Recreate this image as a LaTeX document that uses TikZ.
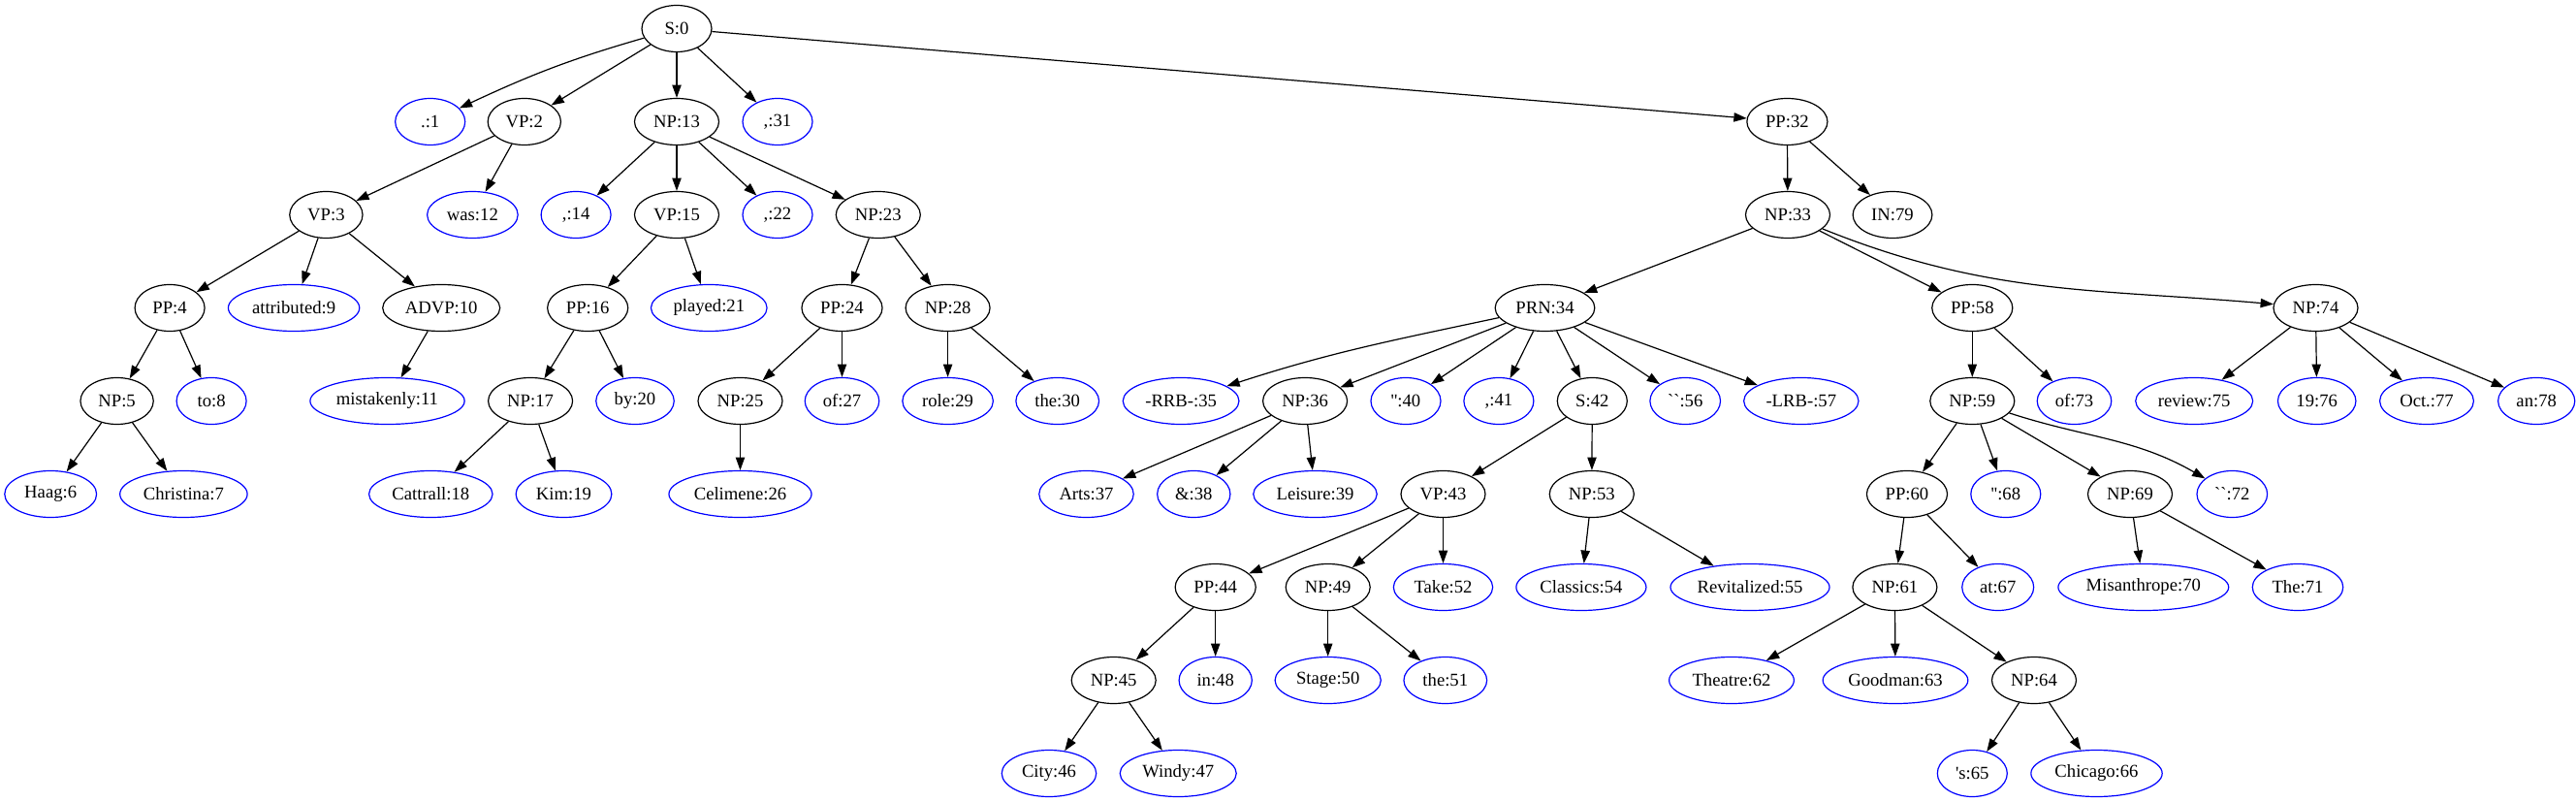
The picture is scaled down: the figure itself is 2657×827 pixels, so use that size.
\documentclass[tikz,border=0pt]{standalone}
\usepackage{fontspec}
\newfontfamily\tf{Liberation Serif}
\usetikzlibrary{shapes.geometric,arrows.meta}
\definecolor{gvblue}{RGB}{0,0,255}
\newlength\lblw
\newcommand\lbl[1]{\setbox0=\hbox{#1}\lblw=0.891\wd0 \advance\lblw by 14.26pt\makebox[\lblw]{#1}}
\tikzset{
  gvnode/.style={ellipse, draw, line width=0.9pt, inner xsep=0pt, inner ysep=0pt,
    minimum width=54pt, minimum height=36pt, font=\tf\fontsize{14}{16}\selectfont},
  nt/.style={gvnode, draw=black},
  wd/.style={gvnode, draw=gvblue},
  edge/.style={draw, line width=0.9pt, -{Triangle[length=10pt,width=7pt]}}
}
\begin{document}
\begin{tikzpicture}[x=0.75pt,y=0.75pt]
\useasboundingbox (0,0) rectangle (2657,-827);
% level 0
\node[nt] (S0) at (698,-29.5) {\lbl{S:0}};
% level 1
\node[wd] (dot1) at (443.7,-125.5) {\lbl{.:1}};
\node[nt] (VP2) at (540.8,-125.5) {\lbl{VP:2}};
\node[nt] (NP13) at (698,-125.5) {\lbl{NP:13}};
\node[wd] (c31) at (802,-125.5) {\lbl{,:31}};
\node[nt] (PP32) at (1843.4,-125.5) {\lbl{PP:32}};
% level 2
\node[nt] (VP3) at (336.4,-221.5) {\lbl{VP:3}};
\node[wd] (was12) at (487.4,-221.5) {\lbl{was:12}};
\node[wd] (c14) at (594.1,-221.5) {\lbl{,:14}};
\node[nt] (VP15) at (698,-221.5) {\lbl{VP:15}};
\node[wd] (c22) at (802,-221.5) {\lbl{,:22}};
\node[nt] (NP23) at (905.8,-221.5) {\lbl{NP:23}};
\node[nt] (NP33) at (1844,-221.5) {\lbl{NP:33}};
\node[nt] (IN79) at (1952,-221.5) {\lbl{IN:79}};
% level 3
\node[nt] (PP4) at (175.1,-317.5) {\lbl{PP:4}};
\node[wd] (attributed9) at (303.1,-317.5) {\lbl{attributed:9}};
\node[nt] (ADVP10) at (455.2,-317.5) {\lbl{ADVP:10}};
\node[nt] (PP16) at (606.2,-317.5) {\lbl{PP:16}};
\node[wd] (played21) at (731.3,-317.5) {\lbl{played:21}};
\node[nt] (PP24) at (868.5,-317.5) {\lbl{PP:24}};
\node[nt] (NP28) at (977.6,-317.5) {\lbl{NP:28}};
\node[nt] (PRN34) at (1593.5,-317.5) {\lbl{PRN:34}};
\node[nt] (PP58) at (2034.3,-317.5) {\lbl{PP:58}};
\node[nt] (NP74) at (2388.5,-317.5) {\lbl{NP:74}};
% level 4
\node[nt] (NP5) at (120.6,-413.5) {\lbl{NP:5}};
\node[wd] (to8) at (218.1,-413.5) {\lbl{to:8}};
\node[wd] (mistakenly11) at (399.5,-413.5) {\lbl{mistakenly:11}};
\node[nt] (NP17) at (547.1,-413.5) {\lbl{NP:17}};
\node[wd] (by20) at (655,-413.5) {\lbl{by:20}};
\node[nt] (NP25) at (763.5,-413.5) {\lbl{NP:25}};
\node[wd] (of27) at (868.5,-413.5) {\lbl{of:27}};
\node[wd] (role29) at (977.6,-413.5) {\lbl{role:29}};
\node[wd] (the30) at (1090.7,-413.5) {\lbl{the:30}};
\node[wd] (RRB35) at (1218.1,-413.5) {\lbl{-RRB-:35}};
\node[nt] (NP36) at (1346.1,-413.5) {\lbl{NP:36}};
\node[wd] (q40) at (1450,-413.5) {\lbl{'':40}};
\node[wd] (c41) at (1545.9,-413.5) {\lbl{,:41}};
\node[nt] (S42) at (1642.3,-413.5) {\lbl{S:42}};
\node[wd] (bq56) at (1738.2,-413.5) {\lbl{``:56}};
\node[wd] (LRB57) at (1857.8,-413.5) {\lbl{-LRB-:57}};
\node[nt] (NP59) at (2034.3,-413.5) {\lbl{NP:59}};
\node[wd] (of73) at (2139.5,-413.5) {\lbl{of:73}};
\node[wd] (review75) at (2263.2,-413.5) {\lbl{review:75}};
\node[wd] (n76) at (2389.7,-413.5) {\lbl{19:76}};
\node[wd] (Oct77) at (2503,-413.5) {\lbl{Oct.:77}};
\node[wd] (an78) at (2616.2,-413.5) {\lbl{an:78}};
% level 5
\node[wd] (Haag6) at (52.2,-509.5) {\lbl{Haag:6}};
\node[wd] (Christina7) at (189.4,-509.5) {\lbl{Christina:7}};
\node[wd] (Cattrall18) at (444.3,-509.5) {\lbl{Cattrall:18}};
\node[wd] (Kim19) at (581.5,-509.5) {\lbl{Kim:19}};
\node[wd] (Celimene26) at (763.5,-509.5) {\lbl{Celimene:26}};
\node[wd] (Arts37) at (1120.5,-509.5) {\lbl{Arts:37}};
\node[wd] (amp38) at (1231.3,-509.5) {\lbl{\&:38}};
\node[wd] (Leisure39) at (1356.5,-509.5) {\lbl{Leisure:39}};
\node[nt] (VP43) at (1488.5,-509.5) {\lbl{VP:43}};
\node[nt] (NP53) at (1641.8,-509.5) {\lbl{NP:53}};
\node[nt] (PP60) at (1967,-509.5) {\lbl{PP:60}};
\node[wd] (q68) at (2068.8,-509.5) {\lbl{'':68}};
\node[nt] (NP69) at (2197,-509.5) {\lbl{NP:69}};
\node[wd] (bq72) at (2302.3,-509.5) {\lbl{``:72}};
% level 6
\node[nt] (PP44) at (1253.7,-605.5) {\lbl{PP:44}};
\node[nt] (NP49) at (1369.7,-605.5) {\lbl{NP:49}};
\node[wd] (Take52) at (1488.5,-605.5) {\lbl{Take:52}};
\node[wd] (Classics54) at (1630.9,-605.5) {\lbl{Classics:54}};
\node[wd] (Revitalized55) at (1805,-605.5) {\lbl{Revitalized:55}};
\node[nt] (NP61) at (1954.4,-605.5) {\lbl{NP:61}};
\node[wd] (at67) at (2060.7,-605.5) {\lbl{at:67}};
\node[wd] (Misanthrope70) at (2210.8,-605.5) {\lbl{Misanthrope:70}};
\node[wd] (The71) at (2370,-605.5) {\lbl{The:71}};
% level 7
\node[nt] (NP45) at (1148.7,-701.5) {\lbl{NP:45}};
\node[wd] (in48) at (1253.7,-701.5) {\lbl{in:48}};
\node[wd] (Stage50) at (1369.7,-701.5) {\lbl{Stage:50}};
\node[wd] (the51) at (1490.8,-701.5) {\lbl{the:51}};
\node[wd] (Theatre62) at (1786,-701.5) {\lbl{Theatre:62}};
\node[wd] (Goodman63) at (1955,-701.5) {\lbl{Goodman:63}};
\node[nt] (NP64) at (2098,-701.5) {\lbl{NP:64}};
% level 8
\node[wd] (City46) at (1082,-797.5) {\lbl{City:46}};
\node[wd] (Windy47) at (1215.2,-797.5) {\lbl{Windy:47}};
\node[wd] (s65) at (2034.3,-797.5) {\lbl{'s:65}};
\node[wd] (Chicago66) at (2162.5,-797.5) {\lbl{Chicago:66}};
% edges
\foreach \a/\b in {S0/VP2, S0/NP13, S0/c31, S0/PP32,
  VP2/VP3, VP2/was12, NP13/c14, NP13/VP15, NP13/c22, NP13/NP23,
  VP3/PP4, VP3/attributed9, VP3/ADVP10, VP15/PP16, VP15/played21,
  NP23/PP24, NP23/NP28, PP32/NP33, PP32/IN79,
  PP4/NP5, PP4/to8, ADVP10/mistakenly11, PP16/NP17, PP16/by20,
  PP24/NP25, PP24/of27, NP28/role29, NP28/the30,
  NP33/PRN34, NP33/PP58,
  NP5/Haag6, NP5/Christina7, NP17/Cattrall18, NP17/Kim19, NP25/Celimene26,
  PRN34/NP36, PRN34/q40, PRN34/c41, PRN34/S42, PRN34/bq56, PRN34/LRB57,
  PP58/NP59, PP58/of73, NP74/review75, NP74/n76, NP74/Oct77, NP74/an78,
  NP36/Arts37, NP36/amp38, NP36/Leisure39, S42/VP43, S42/NP53,
  NP59/PP60, NP59/q68, NP59/NP69,
  VP43/PP44, VP43/NP49, VP43/Take52, NP53/Classics54, NP53/Revitalized55,
  PP60/NP61, PP60/at67, NP69/Misanthrope70, NP69/The71,
  PP44/NP45, PP44/in48, NP49/Stage50, NP49/the51,
  NP61/Theatre62, NP61/Goodman63, NP61/NP64,
  NP45/City46, NP45/Windy47, NP64/s65, NP64/Chicago66}
  \draw[edge] (\a) -- (\b);
\draw[edge] (S0) to[out=196,in=25] (dot1);
\draw[edge] (PRN34) to[out=192,in=18] (RRB35);
\draw[edge] (NP33) to[out=-22,in=175] (NP74);
\draw[edge] (NP59) to[out=-18,in=150] (bq72);
\end{tikzpicture}
\end{document}
